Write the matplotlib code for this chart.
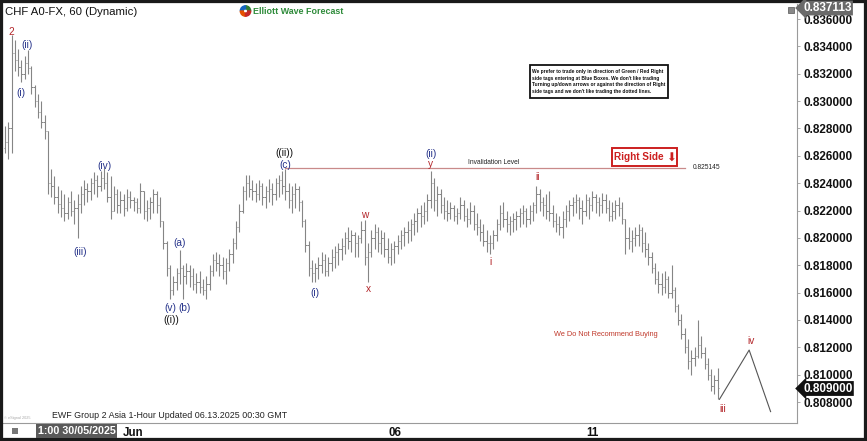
import matplotlib
matplotlib.use("Agg")
import matplotlib.pyplot as plt
from matplotlib.patches import Rectangle, Wedge

# ---------------- data ----------------
highs = [
    0.8282, 0.8285, 0.8348, 0.8345, 0.8338, 0.8330, 0.8333, 0.8337, 0.8326, 0.8312,
    0.8305, 0.8300, 0.8290, 0.8278, 0.8250, 0.8245, 0.8238, 0.8235, 0.8232, 0.8230,
    0.8234, 0.8228, 0.8232, 0.8238, 0.8242, 0.8240, 0.8244, 0.8248, 0.8246, 0.8249,
    0.8251, 0.8248, 0.8245, 0.8238, 0.8236, 0.8234, 0.8232, 0.8236, 0.8234, 0.8230,
    0.8229, 0.8240, 0.8234, 0.8228, 0.8230, 0.8236, 0.8234, 0.8230, 0.8212, 0.8198,
    0.8180, 0.8172, 0.8178, 0.8191, 0.8180, 0.8182, 0.8180, 0.8178, 0.8174, 0.8176,
    0.8170, 0.8172, 0.8180, 0.8188, 0.8190, 0.8188, 0.8186, 0.8185, 0.8192, 0.8200,
    0.8212, 0.8225, 0.8238, 0.8246, 0.8246, 0.8242, 0.8240, 0.8242, 0.8240, 0.8238,
    0.8243, 0.8240, 0.8244, 0.8246, 0.8249, 0.8250, 0.8240, 0.8238, 0.8240, 0.8238,
    0.8228, 0.8214, 0.8198, 0.8184, 0.8182, 0.8186, 0.8190, 0.8188, 0.8186, 0.8192,
    0.8194, 0.8196, 0.8200, 0.8204, 0.8208, 0.8206, 0.8204, 0.8202, 0.8212, 0.8213,
    0.8196, 0.8206, 0.8210, 0.8208, 0.8206, 0.8204, 0.8200, 0.8196, 0.8198, 0.8202,
    0.8206, 0.8208, 0.8212, 0.8214, 0.8218, 0.8222, 0.8224, 0.8226, 0.8232, 0.8249,
    0.8244, 0.8238, 0.8236, 0.8230, 0.8228, 0.8226, 0.8224, 0.8222, 0.8230, 0.8228,
    0.8222, 0.8226, 0.8224, 0.8218, 0.8214, 0.8210, 0.8206, 0.8202, 0.8206, 0.8214,
    0.8224, 0.8226, 0.8220, 0.8216, 0.8218, 0.8220, 0.8222, 0.8224, 0.8222, 0.8224,
    0.8226, 0.8238, 0.8236, 0.8230, 0.8232, 0.8234, 0.8224, 0.8218, 0.8216, 0.8220,
    0.8224, 0.8228, 0.8230, 0.8232, 0.8230, 0.8228, 0.8232, 0.8230, 0.8234, 0.8232,
    0.8230, 0.8233, 0.8232, 0.8228, 0.8226, 0.8228, 0.8230, 0.8226, 0.8214, 0.8208,
    0.8206, 0.8208, 0.8210, 0.8208, 0.8204, 0.8196, 0.8190, 0.8182, 0.8176, 0.8174,
    0.8176, 0.8172, 0.8180, 0.8164, 0.8152, 0.8144, 0.8134, 0.8126, 0.8118, 0.8120,
    0.8140, 0.8128, 0.8120, 0.8112, 0.8104, 0.8100, 0.8105,
]
lows = [
    0.8262, 0.8258, 0.8262, 0.8322, 0.8318, 0.8314, 0.8316, 0.8320, 0.8305, 0.8296,
    0.8288, 0.8280, 0.8272, 0.8232, 0.8230, 0.8225, 0.8218, 0.8215, 0.8212, 0.8214,
    0.8216, 0.8210, 0.8200, 0.8218, 0.8224, 0.8226, 0.8228, 0.8232, 0.8230, 0.8234,
    0.8236, 0.8226, 0.8214, 0.8220, 0.8218, 0.8218, 0.8216, 0.8220, 0.8222, 0.8220,
    0.8218, 0.8218, 0.8214, 0.8212, 0.8214, 0.8218, 0.8218, 0.8208, 0.8192, 0.8172,
    0.8155, 0.8158, 0.8162, 0.8166, 0.8155, 0.8166, 0.8164, 0.8162, 0.8160, 0.8160,
    0.8158, 0.8155, 0.8162, 0.8172, 0.8176, 0.8172, 0.8170, 0.8166, 0.8176, 0.8182,
    0.8192, 0.8204, 0.8218, 0.8228, 0.8230, 0.8228, 0.8226, 0.8228, 0.8224, 0.8222,
    0.8226, 0.8224, 0.8228, 0.8230, 0.8232, 0.8228, 0.8222, 0.8218, 0.8222, 0.8220,
    0.8208, 0.8190, 0.8172, 0.8168, 0.8168, 0.8170, 0.8174, 0.8172, 0.8172, 0.8176,
    0.8178, 0.8180, 0.8184, 0.8188, 0.8192, 0.8190, 0.8186, 0.8186, 0.8196, 0.8180,
    0.8168, 0.8186, 0.8192, 0.8190, 0.8188, 0.8186, 0.8182, 0.8180, 0.8182, 0.8188,
    0.8192, 0.8194, 0.8196, 0.8198, 0.8202, 0.8204, 0.8208, 0.8210, 0.8212, 0.8222,
    0.8220, 0.8216, 0.8218, 0.8214, 0.8212, 0.8214, 0.8212, 0.8210, 0.8214, 0.8212,
    0.8208, 0.8210, 0.8206, 0.8202, 0.8198, 0.8194, 0.8190, 0.8188, 0.8192, 0.8198,
    0.8206, 0.8208, 0.8204, 0.8202, 0.8204, 0.8206, 0.8208, 0.8210, 0.8208, 0.8210,
    0.8212, 0.8218, 0.8220, 0.8216, 0.8214, 0.8212, 0.8208, 0.8204, 0.8202, 0.8200,
    0.8208, 0.8212, 0.8216, 0.8218, 0.8214, 0.8210, 0.8216, 0.8214, 0.8220, 0.8218,
    0.8216, 0.8218, 0.8218, 0.8212, 0.8212, 0.8214, 0.8216, 0.8210, 0.8188, 0.8192,
    0.8190, 0.8194, 0.8194, 0.8190, 0.8186, 0.8180, 0.8174, 0.8166, 0.8160, 0.8158,
    0.8160, 0.8156, 0.8156, 0.8146, 0.8136, 0.8126, 0.8116, 0.8104, 0.8100, 0.8106,
    0.8112, 0.8112, 0.8104, 0.8096, 0.8088, 0.8086, 0.8082,
]
closes = [
    0.8270, 0.8280, 0.8335, 0.8330, 0.8325, 0.8320, 0.8328, 0.8324, 0.8310, 0.8300,
    0.8292, 0.8285, 0.8278, 0.8240, 0.8238, 0.8230, 0.8225, 0.8222, 0.8218, 0.8226,
    0.8220, 0.8222, 0.8225, 0.8232, 0.8236, 0.8234, 0.8240, 0.8242, 0.8238, 0.8244,
    0.8240, 0.8230, 0.8220, 0.8232, 0.8224, 0.8228, 0.8222, 0.8230, 0.8228, 0.8226,
    0.8222, 0.8234, 0.8220, 0.8222, 0.8226, 0.8232, 0.8224, 0.8212, 0.8196, 0.8178,
    0.8162, 0.8168, 0.8174, 0.8178, 0.8172, 0.8176, 0.8172, 0.8166, 0.8168, 0.8164,
    0.8162, 0.8166, 0.8176, 0.8184, 0.8182, 0.8180, 0.8176, 0.8182, 0.8188, 0.8196,
    0.8208, 0.8220, 0.8234, 0.8240, 0.8236, 0.8234, 0.8232, 0.8238, 0.8230, 0.8234,
    0.8236, 0.8232, 0.8240, 0.8242, 0.8238, 0.8234, 0.8228, 0.8232, 0.8236, 0.8226,
    0.8212, 0.8195, 0.8178, 0.8174, 0.8178, 0.8180, 0.8184, 0.8176, 0.8182, 0.8186,
    0.8190, 0.8192, 0.8194, 0.8200, 0.8198, 0.8202, 0.8196, 0.8200, 0.8206, 0.8186,
    0.8190, 0.8200, 0.8204, 0.8196, 0.8200, 0.8192, 0.8186, 0.8192, 0.8194, 0.8198,
    0.8202, 0.8204, 0.8206, 0.8210, 0.8212, 0.8218, 0.8216, 0.8220, 0.8228, 0.8240,
    0.8228, 0.8232, 0.8224, 0.8220, 0.8218, 0.8222, 0.8216, 0.8218, 0.8224, 0.8216,
    0.8214, 0.8220, 0.8210, 0.8208, 0.8204, 0.8198, 0.8196, 0.8196, 0.8202, 0.8210,
    0.8218, 0.8214, 0.8210, 0.8212, 0.8214, 0.8216, 0.8218, 0.8220, 0.8214, 0.8220,
    0.8224, 0.8232, 0.8226, 0.8224, 0.8220, 0.8218, 0.8212, 0.8210, 0.8208, 0.8214,
    0.8220, 0.8224, 0.8226, 0.8228, 0.8222, 0.8220, 0.8228, 0.8224, 0.8230, 0.8226,
    0.8224, 0.8228, 0.8222, 0.8216, 0.8220, 0.8224, 0.8222, 0.8214, 0.8200, 0.8198,
    0.8200, 0.8202, 0.8206, 0.8196, 0.8192, 0.8186, 0.8178, 0.8170, 0.8166, 0.8164,
    0.8170, 0.8160, 0.8162, 0.8150, 0.8140, 0.8130, 0.8120, 0.8110, 0.8112, 0.8114,
    0.8122, 0.8116, 0.8108, 0.8100, 0.8092, 0.8096, 0.8090,
]
first_open = 0.8266

price_ticks = [0.808, 0.810, 0.812, 0.814, 0.816, 0.818, 0.820, 0.822,
               0.824, 0.826, 0.828, 0.830, 0.832, 0.834, 0.836]
date_tick_bars = [38.8, 118.2, 177.9]
date_labels = ["Jun", "06", "11"]

invalidation_level = 0.825145
invalidation_bars = [85, 206]
last_price = 0.809000
top_price = 0.837113

proj_bars = [216.5, 225.5, 232.0]
proj_prices = [0.8082, 0.8118, 0.8073]

BLUE = "#27348b"
RED = "#b3262a"
BLACK = "#111111"
wave_names = ["2", "(ii)", "(i)", "(iii)", "(iv)", "(a)", "(v)", "(b)", "((i))",
              "((ii))", "(c)", "(i)", "w", "x", "(ii)", "y", "i", "ii", "iii", "iv"]
wave_bars = [1.8, 6.7, 4.9, 22.7, 30.0, 53.0, 50.0, 54.4, 50.3,
             84.8, 84.8, 93.9, 109.1, 110.0, 129.1, 129.1, 147.0, 161.5, 217.6, 226.0]
wave_prices = [0.83505, 0.83410, 0.83059, 0.81897, 0.82525, 0.81963, 0.81487, 0.81487, 0.81400,
               0.82620, 0.82533, 0.81597, 0.82167, 0.81626, 0.82613, 0.82540, 0.81824, 0.82445,
               0.80749, 0.81246]
wave_colors = [RED, BLUE, BLUE, BLUE, BLUE, BLUE, BLUE, BLUE, BLACK,
               BLACK, BLUE, BLUE, RED, RED, BLUE, RED, RED, RED, RED, RED]

# ---------------- figure ----------------
W, H = 867, 441
FONT = "Liberation Sans"
plt.rcParams["font.family"] = [FONT, "DejaVu Sans"]

fig = plt.figure(figsize=(W / 100, H / 100), dpi=100)
fig.patch.set_facecolor("white")


def fx(px):
    return px / W


def fy(py):
    return 1 - py / H


ax = fig.add_axes([fx(3), fy(423), (797 - 3) / W, (423 - 4) / H])
ax.set_xlim(-0.6, 240)
ax.set_ylim(0.806468, 0.837097)

n = len(highs)
idx = list(range(n))
opens = [first_open] + closes[:-1]
bar_col = "#858585"
ax.vlines(idx, lows, highs, color=bar_col, lw=0.8)
ax.hlines(opens, [i - 0.4 for i in idx], idx, color=bar_col, lw=0.7)
ax.hlines(closes, idx, [i + 0.4 for i in idx], color=bar_col, lw=0.7)

# invalidation line
ax.plot(invalidation_bars, [invalidation_level] * 2, color="#c98a8a", lw=0.9)
ax.text(148, invalidation_level + 0.00008, "Invalidation Level", fontsize=4.8,
        ha="center", va="bottom", color="#222222")
ax.text(208.3, invalidation_level, "0.825145", fontsize=4.8, ha="left",
        va="center", color="#222222")

# projection line
ax.plot(proj_bars, proj_prices, color="#555555", lw=0.8)

# wave labels
for t, b, p, c in zip(wave_names, wave_bars, wave_prices, wave_colors):
    ax.text(b, p, t, color=c, fontsize=7.3, ha="center", va="center")

# axes styling
for s in ["left", "top"]:
    ax.spines[s].set_visible(False)
for s in ["right", "bottom"]:
    ax.spines[s].set_color("#9a9a9a")
    ax.spines[s].set_linewidth(0.8)
ax.yaxis.tick_right()
ax.set_yticks(price_ticks)
ax.set_yticklabels([f"{v:.6f}" for v in price_ticks], fontsize=8.5,
                   fontweight="bold", color="#111111")
ax.tick_params(axis="y", length=2, width=0.6, color="#9a9a9a", pad=3)
ax.set_xticks(date_tick_bars)
ax.set_xticklabels(date_labels, fontsize=8.3, fontweight="bold", color="#111111")
ax.tick_params(axis="x", length=0, pad=3)

# title and logo
fig.text(fx(5), fy(12), "CHF A0-FX, 60 (Dynamic)", fontsize=8.2, ha="left",
         va="center", color="#111111")
cx, cy, r = 2.455, (H - 11) / 100, 0.052
for a0, col in zip([0, 90, 180, 270], ["#2e7d32", "#1565c0", "#e65100", "#c62828"]):
    fig.add_artist(Wedge((cx, cy), r, a0, a0 + 90, width=0.03, color=col,
                         transform=fig.dpi_scale_trans))
fig.text(fx(253), fy(11), "Elliott Wave Forecast", fontsize=6.4, fontweight="bold",
         ha="left", va="center", color="#2e8b3a")

# disclaimer box
disc = ("We prefer to trade only in direction of Green / Red Right\n"
        "side tags entering at Blue Boxes. We don't like trading\n"
        "Turning up/down arrows or against the direction of Right\n"
        "side tags and we don't like trading the dotted lines.")
fig.add_artist(Rectangle((fx(530), fy(98)), (668 - 530) / W, (98 - 65) / H,
                         transform=fig.transFigure, fill=True, facecolor="white",
                         edgecolor="#111111", lw=1.3))
fig.text(fx(532.5), fy(81.5), disc, fontsize=3.5, fontweight="bold", ha="left",
         va="center", linespacing=1.35, color="#111111")

# Right Side tag
fig.add_artist(Rectangle((fx(612), fy(166)), (677 - 612) / W, (166 - 148) / H,
                         transform=fig.transFigure, fill=True, facecolor="white",
                         edgecolor="#cc1f1f", lw=1.4))
fig.text(fx(614.5), fy(157.5), "Right Side", fontsize=7.2, fontweight="bold",
         ha="left", va="center", color="#cc1f1f")
fig.text(fx(670.5), fy(157.8), "\u2b07", fontsize=8.5, ha="center", va="center",
         color="#cc1f1f", family=["DejaVu Sans"])

# warning text
fig.text(fx(606), fy(334), "We Do Not Recommend Buying", fontsize=5.3,
         ha="center", va="center", color="#c0392b")

# footer
fig.text(fx(52), fy(416), "EWF Group 2 Asia 1-Hour Updated 06.13.2025 00:30 GMT",
         fontsize=6.4, ha="left", va="center", color="#222222")
fig.text(fx(4), fy(418), "\u00a9 eSignal 2025", fontsize=2.8, ha="left",
         va="center", color="#aaaaaa")
fig.text(fx(38), fy(431), "1:00 30/05/2025", fontsize=7.7, fontweight="bold",
         ha="left", va="center", color="white",
         bbox=dict(boxstyle="square,pad=0.15", facecolor="#5a5a5a", edgecolor="none"))
fig.add_artist(Rectangle((fx(12), fy(434)), 6 / W, 6 / H, transform=fig.transFigure,
                         facecolor="#777777", edgecolor="none"))
fig.add_artist(Rectangle((fx(788), fy(13)), 6 / W, 6 / H, transform=fig.transFigure,
                         facecolor="#888888", edgecolor="#555555", lw=0.5))

# price markers
fig.text(fx(803), fy(8), f"{top_price:.6f}", fontsize=8.5, fontweight="bold",
         ha="left", va="center", color="white",
         bbox=dict(boxstyle="larrow,pad=0.12", facecolor="#6a6a6a", edgecolor="none"))
fig.text(fx(803), fy(388.5), f"{last_price:.6f}", fontsize=8.5, fontweight="bold",
         ha="left", va="center", color="white",
         bbox=dict(boxstyle="larrow,pad=0.12", facecolor="#111111", edgecolor="none"))

# outer frame
fig.add_artist(Rectangle((0, 0), 1, 1, transform=fig.transFigure, fill=False,
                         edgecolor="#1a1a1a", lw=4.5))

fig.savefig("out.png", dpi=100)
